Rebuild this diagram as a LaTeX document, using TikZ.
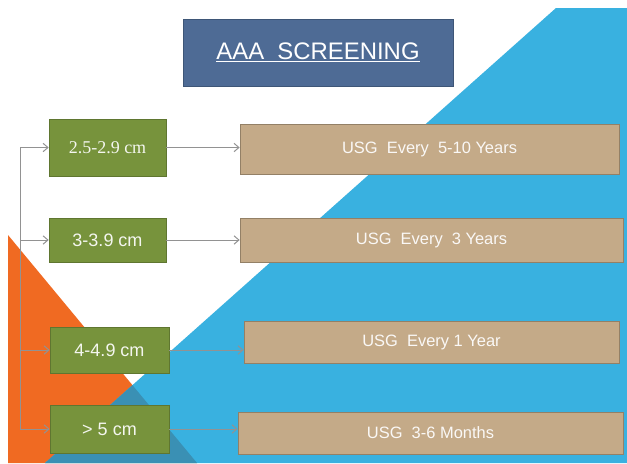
\documentclass[tikz,border=0pt]{standalone}
\usepackage{fontspec}
\setmainfont{Liberation Sans}
\newfontfamily\timesfont{Liberation Serif}
\usetikzlibrary{arrows.meta,positioning,calc}
\definecolor{skyblue}{HTML}{39B1E0}
\definecolor{deepblue}{HTML}{3A90B4}
\definecolor{slideorange}{HTML}{F06A22}
\definecolor{titleblue}{HTML}{4E6B95}
\definecolor{olive}{HTML}{77933C}
\definecolor{tan}{HTML}{C4AA88}
\definecolor{wire}{HTML}{929292}

\begin{document}
\begin{tikzpicture}[x=0.025cm, y=-0.025cm,
    title/.style={draw=titleblue!80!black, fill=titleblue, text=white, inner sep=0pt, font=\fontsize{17}{20}\selectfont},
    size/.style={draw=olive!80!black, fill=olive, text=white!92!olive, inner sep=0pt, font=\fontsize{12.8}{15}\selectfont},
    advice/.style={draw=tan!75!black, fill=tan, text=white!92!tan, inner sep=0pt, font=\fontsize{11.7}{14}\selectfont},
    wireline/.style={draw=wire, line width=0.7pt},
    wirearrow/.style={wireline, -{Straight Barb[length=3.5pt, width=6pt]}}]
      %background
      \useasboundingbox (0,0) rectangle (627,463);
      \fill[white] (0,0) rectangle (627,463);
      \fill[slideorange] (8,235) -- (197,463) -- (8,463) -- cycle;
      \fill[skyblue] (556,8) -- (627,8) -- (627,463) -- (45,463) -- cycle;
      \begin{scope}
        \clip (556,8) -- (627,8) -- (627,463) -- (45,463) -- cycle;
        \fill[deepblue] (8,235) -- (197,463) -- (8,463) -- cycle;
      \end{scope}
      %nodes
      \node[title, minimum width=6.75cm, minimum height=1.675cm] (head) at (318,52.5) {\underline{AAA\ \ SCREENING}};
      \node[size, minimum width=2.925cm, minimum height=1.425cm] (g1) at (107.5,147.5) {\timesfont 2.5-2.9 cm};
      \node[size, minimum width=2.925cm, minimum height=1.1cm] (g2) at (107.5,240) {3-3.9 cm};
      \node[size, minimum width=2.975cm, minimum height=1.15cm] (g3) at (109.5,350) {4-4.9 cm};
      \node[size, minimum width=2.975cm, minimum height=1.2cm] (g4) at (109.5,429) {> 5 cm};
      \node[advice, minimum width=9.475cm, minimum height=1.25cm] (t1) at (429.5,149) {USG\ \ Every\ \ 5-10 Years};
      \node[advice, minimum width=9.575cm, minimum height=1.1cm] (t2) at (431.5,240) {USG\ \ Every\ \ 3 Years};
      \node[advice, minimum width=9.375cm, minimum height=1.05cm] (t3) at (431.5,342) {USG\ \ Every 1 Year};
      \node[advice, minimum width=9.625cm, minimum height=1.05cm] (t4) at (430.5,433) {USG\ \ 3-6 Months};
      \coordinate (trunk) at (20,0);
      %edges
      \path[wireline] (trunk |- g1.west) -- (trunk |- g4.west);
      \path[wirearrow] (trunk |- g1.west) -- (g1.west);
      \path[wirearrow] (trunk |- g2.west) -- (g2.west);
      \path[wirearrow] (trunk |- g3.west) -- (g3.west);
      \path[wirearrow] (trunk |- g4.west) -- (g4.west);
      \path[wirearrow] (g1.east) -- (g1.east -| t1.west);
      \path[wirearrow] (g2.east) -- (t2.west);
      \path[wirearrow] (g3.east) -- (g3.east -| t3.west);
      \path[wirearrow] (g4.east) -- (g4.east -| t4.west);
    \end{tikzpicture}
\end{document}
